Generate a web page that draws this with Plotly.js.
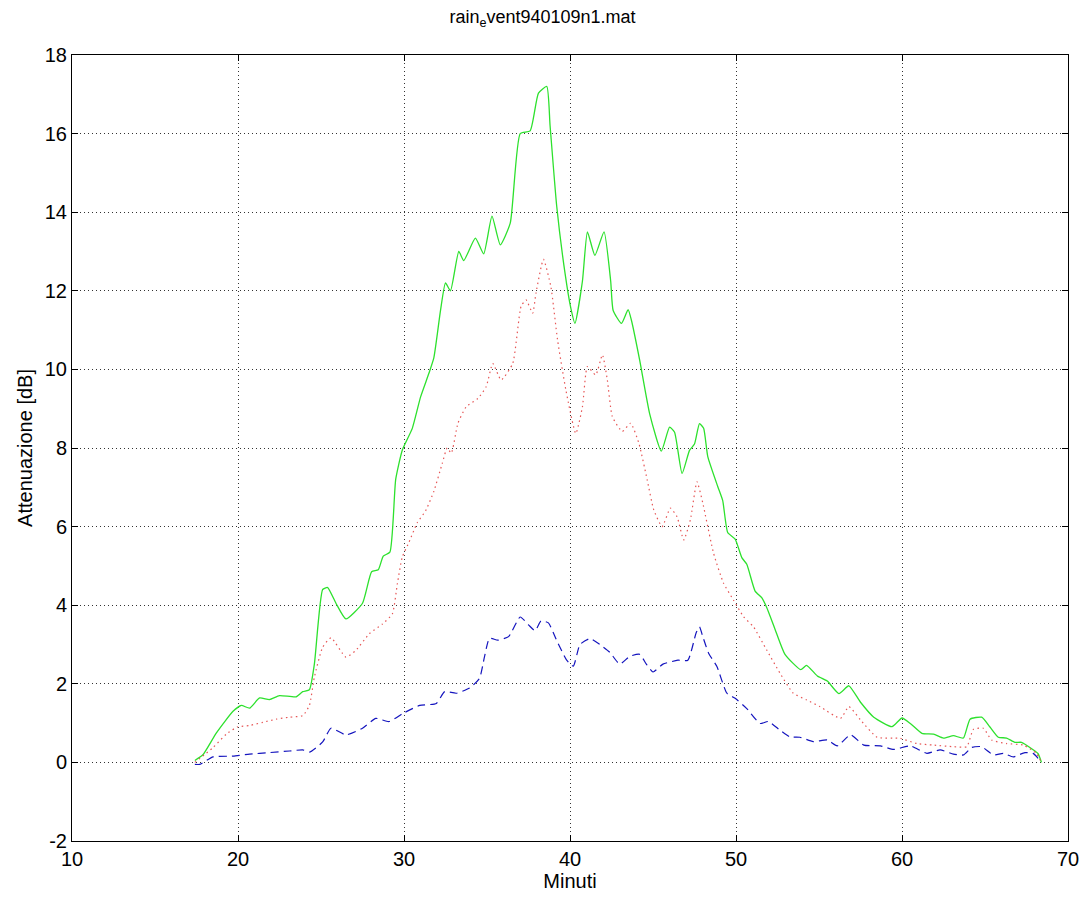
<!DOCTYPE html>
<html>
<head>
<meta charset="utf-8">
<script src="https://cdn.plot.ly/plotly-3.0.1.min.js"></script>
<style>html,body{margin:0;padding:0;background:#fff;}</style>
</head>
<body>
<div id="chart" style="width:1085px;height:898px;"></div>
<script>
// Green solid series
const greenX = [17.4,17.9,18.7,19.7,20.2,20.7,21.3,21.9,22.5,23.5,23.9,24.3,24.6,25.1,25.4,25.9,26.5,27.5,28.05,28.45,28.75,29.15,29.5,29.9,30.5,31.0,31.5,31.8,32.2,32.5,32.8,33.3,33.6,34.3,34.8,35.3,35.8,36.4,37.0,37.6,38.1,38.6,38.8,39.2,39.7,40.05,40.3,40.75,41.05,41.5,42.05,42.45,42.6,43.1,43.5,43.7,44.2,44.8,45.5,46.0,46.3,46.75,47.2,47.5,47.8,48.05,48.3,48.9,49.2,49.5,49.95,50.35,50.65,51.15,51.55,51.85,52.35,52.95,53.9,54.25,54.9,55.5,56.2,56.8,57.5,58.3,59.4,60.0,60.5,61.2,61.9,62.5,63.1,63.7,64.1,64.8,65.3,65.8,66.3,66.8,67.2,67.9,68.2,68.4];
const greenY = [0.05,0.2,0.75,1.3,1.45,1.38,1.64,1.6,1.7,1.67,1.8,1.85,2.5,4.4,4.45,4.05,3.65,4.05,4.85,4.9,5.25,5.35,7.2,7.95,8.5,9.3,9.9,10.3,11.5,12.2,12.0,13.0,12.77,13.34,12.94,13.9,13.17,13.72,16.0,16.07,17.03,17.2,16.2,14.15,12.45,11.56,11.17,12.25,13.5,12.9,13.5,12.25,11.5,11.17,11.52,11.25,10.23,8.87,7.92,8.53,8.4,7.35,7.94,8.1,8.62,8.5,7.78,7.02,6.66,5.85,5.68,5.21,5.04,4.36,4.19,3.94,3.39,2.75,2.36,2.47,2.2,2.07,1.75,1.95,1.53,1.15,0.91,1.13,0.99,0.74,0.72,0.62,0.68,0.62,1.1,1.15,0.9,0.64,0.62,0.51,0.51,0.32,0.22,0.0];

// Red dotted series
const redX = [17.4,18.5,19.3,19.95,20.7,21.5,22.3,23.1,23.9,24.3,24.6,25.1,25.6,26.5,27.1,27.9,28.7,29.3,29.6,29.9,30.3,30.8,31.3,31.8,32.3,32.6,32.85,33.25,33.75,34.45,34.95,35.35,35.85,36.55,37.05,37.35,37.75,37.95,38.4,38.85,39.25,39.75,40.35,40.75,41.05,41.55,41.95,42.25,42.55,43.15,43.65,44.15,44.65,45.05,45.55,46.05,46.45,46.85,47.25,47.65,48.0,48.15,48.65,49.25,49.85,50.45,51.05,51.85,52.65,53.45,54.25,55.05,56.3,56.8,57.5,58.5,59.9,60.9,61.9,63.1,63.9,64.3,64.9,65.4,66.3,67.3,68.1,68.4];
const redY = [0.0,0.38,0.72,0.9,0.94,1.02,1.1,1.15,1.19,1.45,2.17,2.93,3.17,2.68,2.85,3.27,3.52,3.78,4.55,5.23,5.6,6.1,6.4,6.9,7.6,8.0,7.87,8.63,9.05,9.26,9.56,10.15,9.73,10.15,11.6,11.77,11.43,11.94,12.8,12.1,10.75,9.48,8.37,9.05,10.07,9.86,10.37,9.73,8.8,8.42,8.63,8.12,7.19,6.42,6.0,6.47,6.25,5.66,6.17,7.14,6.6,6.3,5.32,4.56,4.13,3.71,3.45,2.86,2.27,1.76,1.59,1.42,1.12,1.42,1.08,0.64,0.61,0.48,0.44,0.4,0.4,0.84,0.87,0.57,0.48,0.44,0.23,0.0];

// Blue dashed series
const blueX = [17.4,17.7,18.5,19.7,20.7,21.9,23.1,23.9,24.3,25.1,25.6,26.5,27.5,28.3,29.1,29.95,30.95,31.95,32.45,33.15,33.95,34.55,34.85,35.15,35.65,36.3,37.0,37.5,37.9,38.25,38.7,39.2,39.8,40.2,40.6,41.2,41.8,42.4,43.0,43.6,44.2,44.6,45.0,45.6,46.5,47.1,47.6,47.8,48.0,48.35,48.85,49.45,49.95,50.65,51.45,51.95,52.65,53.25,53.85,54.65,55.5,56.1,56.9,57.7,58.7,59.5,60.5,61.5,62.3,63.1,63.7,64.2,64.8,65.5,66.1,66.7,67.4,67.9,68.35];
const blueY = [-0.05,-0.05,0.14,0.16,0.21,0.25,0.29,0.32,0.26,0.52,0.87,0.7,0.87,1.12,1.04,1.25,1.45,1.5,1.8,1.76,1.89,2.14,2.69,3.16,3.11,3.2,3.7,3.5,3.35,3.6,3.55,3.1,2.6,2.45,3.0,3.15,3.0,2.8,2.5,2.7,2.75,2.5,2.3,2.5,2.6,2.6,3.3,3.45,3.2,2.78,2.44,1.76,1.63,1.37,0.99,1.04,0.82,0.65,0.64,0.53,0.57,0.42,0.7,0.44,0.42,0.33,0.42,0.23,0.32,0.21,0.19,0.38,0.4,0.19,0.23,0.14,0.25,0.23,0.03];

const xTicks = [10,20,30,40,50,60,70];
const yTicks = [-2,0,2,4,6,8,10,12,14,16,18];

const FONT = 'Liberation Sans, Arial, sans-serif';

const traces = [
  {x: greenX, y: greenY, type: 'scatter', mode: 'lines', line: {color: 'rgb(45,225,45)', width: 1.3, shape: 'spline', smoothing: 0.5}, hoverinfo: 'skip'},
  {x: redX, y: redY, type: 'scatter', mode: 'lines', line: {color: 'rgb(230,85,85)', width: 1.2, dash: '1.5px,3.5px', shape: 'spline', smoothing: 0.5}, hoverinfo: 'skip'},
  {x: blueX, y: blueY, type: 'scatter', mode: 'lines', line: {color: 'rgb(20,20,190)', width: 1.2, dash: '8px,5px', shape: 'spline', smoothing: 0.5}, hoverinfo: 'skip'}
];

const axisFont = {family: FONT, size: 20, color: '#000'};

const layout = {
  width: 1085, height: 898,
  margin: {l: 72, r: 17, t: 55, b: 57},
  paper_bgcolor: '#fff', plot_bgcolor: '#fff',
  showlegend: false,
  title: {text: 'rain<sub>e</sub>vent940109n1.mat', font: {family: FONT, size: 18, color: '#000'}, x: 0.5, xanchor: 'center', y: 0.988, yanchor: 'top'},
  xaxis: {
    range: [10, 70], tickvals: xTicks, ticktext: xTicks.map(String),
    showgrid: true, gridcolor: 'rgba(0,0,0,0.8)', griddash: '1px,3px', gridwidth: 1,
    zeroline: false, showline: true, linecolor: '#000', linewidth: 1, mirror: 'ticks',
    ticks: 'inside', ticklen: 6, tickcolor: '#000',
    tickfont: axisFont,
    title: {text: 'Minuti', font: {family: FONT, size: 20, color: '#000'}, standoff: 4}
  },
  yaxis: {
    range: [-2, 18], tickvals: yTicks, ticktext: yTicks.map(String),
    showgrid: true, gridcolor: 'rgba(0,0,0,0.8)', griddash: '1px,3px', gridwidth: 1,
    zeroline: false, showline: true, linecolor: '#000', linewidth: 1, mirror: 'ticks',
    ticks: 'inside', ticklen: 6, tickcolor: '#000',
    tickfont: axisFont,
    title: {text: 'Attenuazione [dB]', font: {family: FONT, size: 20, color: '#000'}, standoff: 6}
  }
};

Plotly.newPlot('chart', traces, layout, {staticPlot: true, displayModeBar: false});
</script>
</body>
</html>
